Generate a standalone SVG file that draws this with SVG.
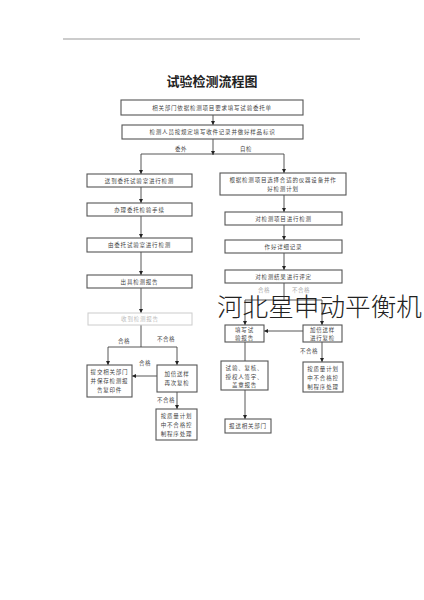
<svg xmlns="http://www.w3.org/2000/svg" width="424" height="600" viewBox="0 0 424 600">
<defs>
<marker id="ah" markerWidth="4" markerHeight="4" refX="4" refY="2" orient="auto" markerUnits="userSpaceOnUse">
<path d="M0,0 L4,2 L0,4 z" fill="#222"/>
</marker>
<style>
.box{fill:#fff;stroke:#555;stroke-width:1.1}
.fade{fill:#fff;stroke:#ccc;stroke-width:1}
.t{font-family:"Liberation Sans","Noto Sans CJK SC",sans-serif;font-size:5.5px;fill:#444;text-anchor:middle;letter-spacing:0.8px}
.tf{fill:#bbb}
.lb{font-family:"Liberation Sans","Noto Sans CJK SC",sans-serif;font-size:5.5px;fill:#444;letter-spacing:0.5px}
.ln{fill:none;stroke:#444;stroke-width:0.9}
.ar{fill:none;stroke:#444;stroke-width:0.9;marker-end:url(#ah)}
</style>
</defs>
<rect width="424" height="600" fill="#fff"/>
<line x1="63" y1="39" x2="360" y2="39" stroke="#999" stroke-width="1"/>
<text x="212" y="86" font-family="'Noto Sans CJK SC',sans-serif" font-size="13" font-weight="bold" fill="#222" text-anchor="middle">试验检测流程图</text>

<g id="connectors">
<line class="ar" x1="213" y1="115" x2="213" y2="125"/>
<line class="ar" x1="213" y1="139" x2="213" y2="155"/>
<line class="ln" x1="141" y1="154" x2="284" y2="154"/>
<line class="ar" x1="141" y1="154" x2="141" y2="174"/>
<line class="ar" x1="284" y1="154" x2="284" y2="173"/>
<line class="ar" x1="141" y1="187" x2="141" y2="203"/>
<line class="ar" x1="141" y1="216" x2="141" y2="238"/>
<line class="ar" x1="141" y1="252" x2="141" y2="275"/>
<line class="ar" x1="141" y1="288" x2="141" y2="313"/>
<line class="ln" x1="141" y1="325" x2="141" y2="347"/>
<line class="ln" x1="108" y1="347" x2="177" y2="347"/>
<line class="ar" x1="108" y1="347" x2="108" y2="365"/>
<line class="ar" x1="177" y1="347" x2="177" y2="365"/>
<line class="ar" x1="157" y1="376" x2="132" y2="376"/>
<line class="ar" x1="177" y1="392" x2="177" y2="409"/>
<line class="ar" x1="284" y1="195" x2="284" y2="212"/>
<line class="ar" x1="284" y1="225" x2="284" y2="240"/>
<line class="ar" x1="284" y1="253" x2="284" y2="270"/>
<line class="ln" x1="284" y1="283" x2="284" y2="300"/>
<line class="ln" x1="245" y1="300" x2="322" y2="300"/>
<line class="ar" x1="245" y1="300" x2="245" y2="325"/>
<line class="ar" x1="322" y1="300" x2="322" y2="325"/>
<line class="ar" x1="303" y1="331" x2="264" y2="331"/>
<line class="ln" x1="245" y1="342" x2="245" y2="361"/>
<line class="ar" x1="245" y1="390" x2="245" y2="419"/>
<line class="ar" x1="322" y1="342" x2="322" y2="362"/>
<text class="lb" x="175" y="151">委外</text>
<text class="lb" x="240" y="151">自检</text>
<text class="lb" x="118" y="343">合格</text>
<text class="lb" x="157" y="341">不合格</text>
<text class="lb" x="139" y="365">合格</text>
<text class="lb" x="157" y="402">不合格</text>
<text class="lb" x="258" y="292" fill="#aaa" style="fill:#aaa">合格</text>
<text class="lb" x="292" y="292" style="fill:#aaa">不合格</text>
<text class="lb" x="300" y="353">不合格</text>
</g>

<g id="n1"><rect class="box" x="121" y="100" width="182" height="15"/><text class="t" x="212" y="109.5">相关部门依据检测项目要求填写试验委托单</text></g>
<g id="n2"><rect class="box" x="122" y="125" width="181" height="14"/><text class="t" x="212.5" y="134">检测人员按规定填写收件记录并做好样品标识</text></g>

<g id="l1"><rect class="box" x="87" y="174" width="105" height="13"/><text class="t" x="139.5" y="182.5">送到委托试验室进行检测</text></g>
<g id="l2"><rect class="box" x="87" y="203" width="105" height="13"/><text class="t" x="139.5" y="211.5">办理委托检验手续</text></g>
<g id="l3"><rect class="box" x="87" y="238" width="105" height="14"/><text class="t" x="139.5" y="247">由委托试验室进行检测</text></g>
<g id="l4"><rect class="box" x="87" y="275" width="105" height="13"/><text class="t" x="139.5" y="283.5">出具检测报告</text></g>
<g id="l5"><rect class="fade" x="88" y="313" width="104" height="12"/><text class="t tf" x="140" y="321">收到检测报告</text></g>
<g id="l6"><rect class="box" x="87" y="365" width="45" height="32"/><text class="t" x="109.5" y="374">提交相关部门</text><text class="t" x="109.5" y="383">并保存检测报</text><text class="t" x="109.5" y="392">告复印件</text></g>
<g id="l7"><rect class="box" x="157" y="365" width="40" height="27"/><text class="t" x="177" y="376">加倍送样</text><text class="t" x="177" y="385">再次复检</text></g>
<g id="l8"><rect class="box" x="156" y="409" width="41" height="31"/><text class="t" x="176.5" y="418">按质量计划</text><text class="t" x="176.5" y="427">中不合格控</text><text class="t" x="176.5" y="436">制程序处理</text></g>

<g id="r1"><rect class="box" x="220" y="173" width="126" height="22"/><text class="t" x="283" y="182">根据检测项目选择合适的仪器设备并作</text><text class="t" x="283" y="191">好检测计划</text></g>
<g id="r2"><rect class="box" x="225" y="212" width="117" height="13"/><text class="t" x="283.5" y="220.5">对检测项目进行检测</text></g>
<g id="r3"><rect class="box" x="225" y="240" width="117" height="13"/><text class="t" x="283.5" y="248.5">作好详细记录</text></g>
<g id="r4"><rect class="box" x="225" y="270" width="117" height="13"/><text class="t" x="283.5" y="278.5">对检测结果进行评定</text></g>
<g id="r5"><rect class="box" x="225" y="325" width="39" height="17"/><text class="t" x="244.5" y="332">填写试</text><text class="t" x="244.5" y="339.5">验报告</text></g>
<g id="r6"><rect class="box" x="303" y="325" width="39" height="17"/><text class="t" x="322.5" y="332">加倍送样</text><text class="t" x="322.5" y="339.5">进行复检</text></g>
<g id="r7"><rect class="box" x="221" y="361" width="47" height="29"/><text class="t" x="244.5" y="370">试验、复核、</text><text class="t" x="244.5" y="378.5">授权人签字、</text><text class="t" x="244.5" y="387">盖章报告</text></g>
<g id="r8"><rect class="box" x="225" y="419" width="46" height="14"/><text class="t" x="248" y="428">报送相关部门</text></g>
<g id="r9"><rect class="box" x="303" y="362" width="40" height="30"/><text class="t" x="323" y="371">按质量计划</text><text class="t" x="323" y="380">中不合格控</text><text class="t" x="323" y="389">制程序处理</text></g>

<text x="217" y="316" font-family="'Noto Sans CJK SC',sans-serif" font-size="25" font-weight="300" fill="#222" textLength="205" lengthAdjust="spacingAndGlyphs">河北星申动平衡机</text>
</svg>
